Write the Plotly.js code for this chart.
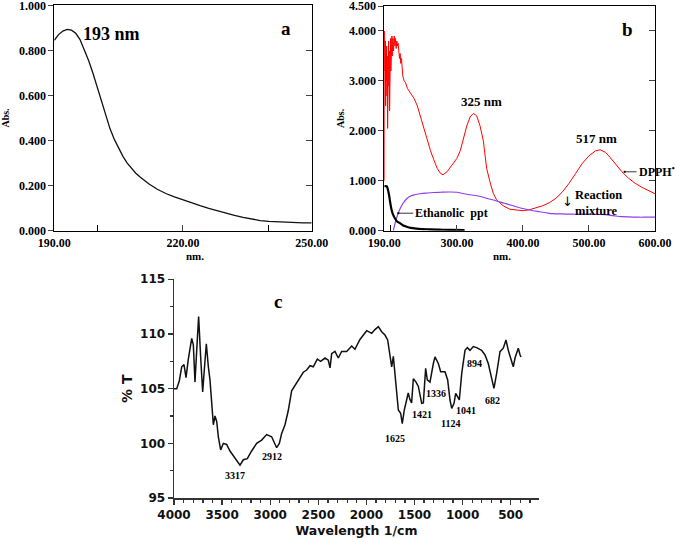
<!DOCTYPE html>
<html><head><meta charset="utf-8">
<script src="https://cdn.plot.ly/plotly-3.0.1.min.js"></script>
<style>html,body{margin:0;padding:0;background:#fff}</style>
</head><body><div id="chart" style="width:676px;height:538px"></div>
<script>
// ---- Panel a: UV spectrum of extract ----
const aWavelength = [190,191,192,193,194,195,196,197,198,199,200,201,202,203,204,205,206,207,208,209,210,212,214,216,218,220,222,224,226,228,230,232,234,236,238,240,242,244,246,248,250];
const aAbs = [0.845,0.870,0.886,0.893,0.890,0.876,0.848,0.805,0.755,0.700,0.638,0.572,0.510,0.452,0.405,0.365,0.330,0.300,0.275,0.255,0.238,0.208,0.184,0.165,0.150,0.136,0.123,0.111,0.099,0.088,0.078,0.068,0.059,0.051,0.045,0.041,0.039,0.037,0.036,0.035,0.035];

// ---- Panel b: DPPH, reaction mixture, ethanolic ppt ----
const bDpphWl = [190,190.3,191,191.5,192,192.5,193,193.5,194,194.5,195,195.5,196,196.5,197,197.5,198,198.5,199,199.5,200,200.5,201,201.5,202,203,204,205,206,207,208,209,210,211,212,213,214,215,216,217,218,220,222,225,230,235,240,245,250,255,260,265,270,275,279,285,290,295,300,305,310,315,320,325,330,335,340,345,350,355,360,370,380,390,400,410,420,430,440,450,460,470,480,490,500,510,517,525,530,540,550,560,570,580,590,600];
const bDpphAbs = [1.0,4.0,3.2,3.8,2.5,3.6,3.0,3.7,2.7,3.5,2.05,3.4,3.1,3.8,2.9,3.6,2.4,3.5,3.0,3.85,3.2,3.7,3.3,3.9,3.5,3.85,3.6,3.9,3.7,3.85,3.65,3.8,3.7,3.75,3.6,3.45,3.55,3.35,3.45,3.25,3.1,3.0,2.97,2.85,2.75,2.65,2.5,2.28,2.05,1.8,1.6,1.42,1.25,1.15,1.12,1.18,1.27,1.35,1.45,1.6,1.85,2.1,2.28,2.35,2.3,2.1,1.8,1.25,0.98,0.75,0.62,0.5,0.43,0.41,0.40,0.42,0.46,0.5,0.56,0.65,0.78,0.95,1.15,1.35,1.5,1.6,1.62,1.57,1.5,1.33,1.18,1.05,0.95,0.87,0.8,0.74];
const bMixWl = [203.6,207,211,215,219,224,229,236,244,255,265,275,289,300,309,320,334,345,359,372,385,395,405,415,425,435,445,460,475,490,500,512,525,537,550,562,575,587,600];
const bMixAbs = [0.0,0.18,0.35,0.47,0.56,0.64,0.69,0.72,0.74,0.755,0.765,0.77,0.775,0.77,0.745,0.72,0.69,0.65,0.60,0.55,0.50,0.46,0.43,0.40,0.38,0.36,0.34,0.335,0.33,0.33,0.33,0.325,0.32,0.30,0.28,0.275,0.27,0.27,0.27];
const bEthWl = [190,191,193.5,195.5,197.5,199,201,203,206,209,213.6,218,223.7,230,238.7,248,258.8,274,290,311.6];
const bEthAbs = [0.88,0.89,0.89,0.82,0.69,0.56,0.42,0.33,0.25,0.19,0.15,0.11,0.08,0.055,0.04,0.032,0.027,0.02,0.016,0.013];

// ---- Panel c: FTIR spectrum ----
const cWavenumber = [4000,3972,3945,3920,3896,3875,3851,3834,3816,3799,3782,3764,3744,3723,3702,3685,3664,3643,3626,3608,3591,3574,3556,3539,3515,3487,3453,3418,3366,3314,3279,3238,3193,3141,3089,3037,2985,2933,2905,2881,2846,2812,2777,2742,2697,2656,2621,2586,2552,2510,2476,2430,2396,2378,2361,2327,2292,2257,2205,2153,2119,2067,1997,1945,1911,1876,1841,1807,1779,1755,1737,1720,1703,1685,1668,1644,1627,1606,1581,1565,1547,1530,1512,1484,1460,1425,1408,1384,1367,1339,1304,1287,1252,1228,1183,1155,1131,1113,1089,1072,1054,1034,1009,975,951,923,889,854,802,767,733,698,674,646,611,577,549,525,507,473,455,438,421,403,393];
const cTransmittance = [105.0,105.0,105.7,107.0,107.2,106.0,107.7,108.5,109.6,109.0,105.6,108.5,111.6,107.9,104.7,106.7,109.1,107.0,105.8,103.7,101.7,102.5,102.0,100.6,99.4,100.0,99.9,99.3,98.7,98.0,98.5,98.6,99.3,100.0,100.3,100.8,100.6,99.6,100.0,100.9,101.7,103.0,104.8,105.3,105.9,106.5,106.7,107.1,107.0,107.7,107.5,107.8,107.6,106.9,108.2,108.4,107.8,108.4,108.4,108.9,108.6,109.5,110.3,110.06,110.4,110.67,110.2,109.9,109.45,108.2,107.0,107.95,106.4,104.6,103.05,102.75,101.8,103.05,103.96,104.6,104.0,103.7,105.9,105.6,105.2,103.66,103.7,106.86,105.8,105.6,107.3,107.9,107.3,106.55,106.55,105.8,103.96,103.2,103.66,104.57,104.3,103.96,106.4,108.5,108.75,108.5,108.85,108.75,108.5,108.08,107.3,105.8,105.03,106.4,108.38,108.7,109.45,108.5,107.9,107.0,107.8,108.2,108.7,108.1,107.9];
const cPeakLabels = ['3317','2912','1625','1421','1336','1124','1041','894','682'];
const cPeakLabelX = [3366,2984,1703,1419,1280,1121,965,881,687];
const cPeakLabelY = [97.1,98.78,100.46,102.65,104.57,101.83,102.96,107.32,103.96];

const SERIF = '"Liberation Serif", "Times New Roman", serif';
const SANS = '"DejaVu Sans", Arial, sans-serif';
function sf(size){return {family:SERIF, size:size, weight:'bold', color:'#000'};}
function ss(size){return {family:SANS, size:size, weight:'bold', color:'#111'};}

const traces = [
  {x:aWavelength, y:aAbs, xaxis:'x', yaxis:'y', mode:'lines', line:{color:'#111', width:1.3}, hoverinfo:'skip'},
  {x:[], y:[], xaxis:'x', yaxis:'y4', mode:'lines', hoverinfo:'skip'},
  {x:bDpphWl, y:bDpphAbs, xaxis:'x2', yaxis:'y2', mode:'lines', line:{color:'#ff0000', width:1}, hoverinfo:'skip'},
  {x:bMixWl, y:bMixAbs, xaxis:'x2', yaxis:'y2', mode:'lines', line:{color:'#8f3cf0', width:1.2, shape:'spline'}, hoverinfo:'skip'},
  {x:bEthWl, y:bEthAbs, xaxis:'x2', yaxis:'y2', mode:'lines', line:{color:'#000', width:2.2, shape:'spline'}, hoverinfo:'skip'},
  {x:[], y:[], xaxis:'x2', yaxis:'y5', mode:'lines', hoverinfo:'skip'},
  {x:cWavenumber, y:cTransmittance, xaxis:'x3', yaxis:'y3', mode:'lines', line:{color:'#111', width:1.5}, hoverinfo:'skip'}
];

const frameAxis = {showline:true, linecolor:'#000', linewidth:1, mirror:true, showgrid:false, zeroline:false, fixedrange:true, ticklabeloverflow:'allow'};

const annotations = [
  {xref:'paper', yref:'paper', x:0.2722, y:0.5235, text:'nm.', showarrow:false, font:sf(11)},
  {xref:'paper', yref:'paper', x:0.7594, y:0.5235, text:'nm.', showarrow:false, font:sf(11)},
  {xref:'x', yref:'y', x:203.4, y:0.871, text:'193 nm', showarrow:false, font:sf(18)},
  {xref:'x', yref:'y', x:243.9, y:0.898, text:'a', showarrow:false, font:sf(19)},
  {xref:'x2', yref:'y2', x:337.5, y:2.58, text:'325 nm', showarrow:false, font:sf(13)},
  {xref:'x2', yref:'y2', x:511.7, y:1.85, text:'517 nm', showarrow:false, font:sf(13)},
  {xref:'x2', yref:'y2', x:559.1, y:4.03, text:'b', showarrow:false, font:sf(19)},
  {xref:'x2', yref:'y2', x:211.2, y:0.35, ax:15, ay:0, text:'Ethanolic  ppt', xanchor:'left', showarrow:true, arrowhead:7, arrowsize:0.6, arrowwidth:0.8, arrowcolor:'#000', standoff:0, font:sf(12)},
  {xref:'x2', yref:'y2', x:554, y:1.18, ax:12, ay:0, text:'DPPH<sup>•</sup>', xanchor:'left', showarrow:true, arrowhead:7, arrowsize:0.6, arrowwidth:0.8, arrowcolor:'#000', standoff:0, font:sf(12)},
  {xref:'x2', yref:'y2', x:475.8, y:0.555, text:'Reaction<br>mixture', xanchor:'left', yanchor:'middle', align:'left', showarrow:false, font:sf(12.5)},
  {xref:'x2', yref:'y2', x:468.2, y:0.58, text:'↓', showarrow:false, font:{family:'"DejaVu Sans", sans-serif', size:13, color:'#000'}},
  {xref:'x3', yref:'y3', x:2916, y:112.95, text:'c', showarrow:false, font:sf(19)}
];
for (let i = 0; i < cPeakLabels.length; i++) {
  annotations.push({xref:'x3', yref:'y3', x:cPeakLabelX[i], y:cPeakLabelY[i], text:cPeakLabels[i], showarrow:false, font:sf(10)});
}

const layout = {
  width:676, height:538, margin:{l:0, r:0, t:0, b:0},
  paper_bgcolor:'#fff', plot_bgcolor:'rgba(0,0,0,0)', showlegend:false,
  xaxis: Object.assign({}, frameAxis, {domain:[0.0803,0.4611], anchor:'y', range:[190,250],
    tickvals:[190,220,250], tickformat:'.2f', ticks:'inside', ticklen:6,
    minor:{tickvals:[200,240], ticks:'inside', ticklen:6, tickcolor:'#000'},
    tickfont:sf(12), ticklabelstandoff:1}),
  yaxis: Object.assign({}, frameAxis, {domain:[0.5712,0.9901], anchor:'x', range:[0,1],
    dtick:0.2, tickformat:'.3f', ticks:'outside', ticklen:5,
    tickfont:sf(12), title:{text:'Abs.', font:sf(10), standoff:8}}),
  yaxis4: {overlaying:'y', side:'right', anchor:'x', range:[0,1], dtick:0.2, ticks:'inside', ticklen:6,
    showticklabels:false, showline:false, showgrid:false, zeroline:false, fixedrange:true},
  xaxis2: Object.assign({}, frameAxis, {domain:[0.5685,0.9689], anchor:'y2', range:[190,600],
    tickvals:[190,300,400,500,600], tickformat:'.2f', ticks:'inside', ticklen:6,
    minor:{tickvals:[200], ticks:'inside', ticklen:6, tickcolor:'#000'},
    tickfont:sf(12), ticklabelstandoff:1}),
  yaxis2: Object.assign({}, frameAxis, {domain:[0.5712,0.9888], anchor:'x2', range:[0,4.5],
    tickformat:'.3f', ticks:'outside', ticklen:5,
    tickvals:[0,1,2,3,4,4.5],
    tickfont:sf(12), title:{text:'Abs.', font:sf(10), standoff:2}}),
  yaxis5: {overlaying:'y2', side:'right', anchor:'x2', range:[0,4.5], tickvals:[1,2,3,4], ticks:'inside', ticklen:6,
    showticklabels:false, showline:false, showgrid:false, zeroline:false, fixedrange:true},
  xaxis3: {domain:[0.2574,0.7973], anchor:'y3', range:[4000,206], tick0:0, dtick:500,
    ticks:'outside', ticklen:5, tickcolor:'#333', tickwidth:1.3,
    minor:{dtick:100, ticks:'outside', ticklen:3, tickcolor:'#333'},
    showline:true, linecolor:'#333', linewidth:1.5, showgrid:false, zeroline:false, fixedrange:true,
    tickfont:ss(12), title:{text:'Wavelength 1/cm', font:ss(12.5), standoff:6}},
  yaxis3: {domain:[0.0743,0.4809], anchor:'x3', range:[95,115], dtick:5,
    ticks:'outside', ticklen:5, tickcolor:'#333', tickwidth:1.3,
    minor:{dtick:2.5, ticks:'outside', ticklen:3, tickcolor:'#333'},
    showline:true, linecolor:'#333', linewidth:1.5, showgrid:false, zeroline:false, fixedrange:true,
    tickfont:ss(12), title:{text:'% T', font:ss(14), standoff:4}},
  annotations: annotations
};

Plotly.newPlot('chart', traces, layout, {staticPlot:true, displayModeBar:false});
</script>
</body></html>
